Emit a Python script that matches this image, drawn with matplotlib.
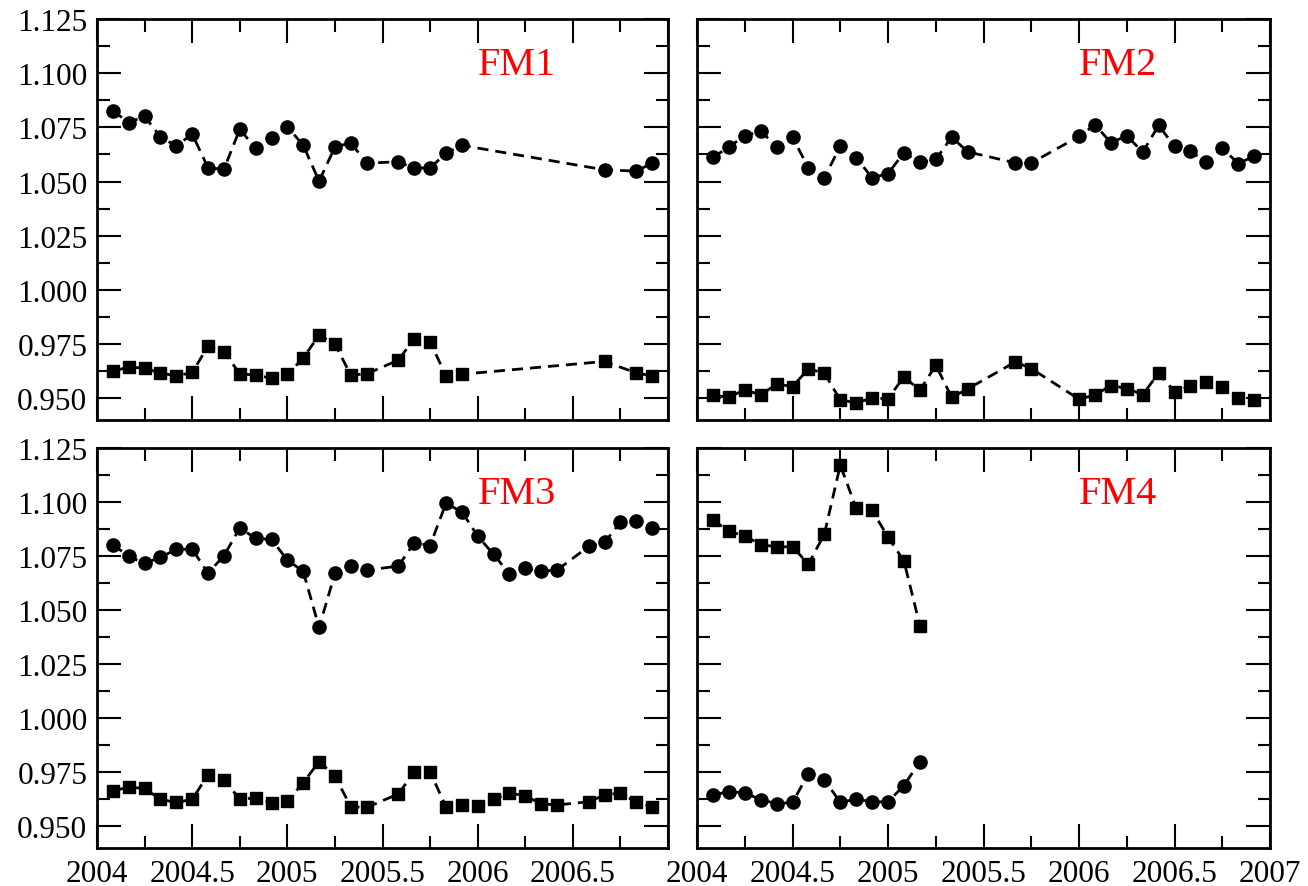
import matplotlib
matplotlib.use("Agg")
import matplotlib.pyplot as plt
import numpy as np
from matplotlib.ticker import MultipleLocator, FixedLocator, FixedFormatter

plt.rcParams['font.family'] = ['Liberation Serif', 'DejaVu Serif']

# month index counted from Jan 2004 (x = 2004 + month/12)
fm1_months = [1, 2, 3, 4, 5, 6, 7, 8, 9, 10, 11, 12, 13, 14, 15, 16, 17,
              19, 20, 21, 22, 23, 32, 34, 35]
fm1_circ = [1.0826, 1.0772, 1.0801, 1.0705, 1.0664, 1.0719, 1.0563, 1.0557,
            1.0741, 1.0653, 1.0702, 1.0753, 1.0667, 1.0502, 1.0659, 1.0679,
            1.0585, 1.0591, 1.0562, 1.0563, 1.0630, 1.0667, 1.0554, 1.0548,
            1.0585]
fm1_sq = [0.9625, 0.9644, 0.9639, 0.9617, 0.9603, 0.9619, 0.9741, 0.9715,
          0.9613, 0.9607, 0.9593, 0.9611, 0.9685, 0.9792, 0.9750, 0.9607,
          0.9613, 0.9676, 0.9775, 0.9761, 0.9603, 0.9611, 0.9670, 0.9617,
          0.9603]

fm2_months = [1, 2, 3, 4, 5, 6, 7, 8, 9, 10, 11, 12, 13, 14, 15, 16, 17,
              20, 21, 24, 25, 26, 27, 28, 29, 30, 31, 32, 33, 34, 35]
fm2_circ = [1.0611, 1.0660, 1.0710, 1.0733, 1.0660, 1.0704, 1.0563, 1.0517,
            1.0664, 1.0610, 1.0517, 1.0537, 1.0633, 1.0588, 1.0602, 1.0705,
            1.0637, 1.0586, 1.0586, 1.0708, 1.0762, 1.0679, 1.0711, 1.0636,
            1.0759, 1.0662, 1.0640, 1.0588, 1.0654, 1.0583, 1.0617]
fm2_sq = [0.9515, 0.9504, 0.9540, 0.9515, 0.9566, 0.9554, 0.9636, 0.9616,
          0.9492, 0.9480, 0.9500, 0.9499, 0.9599, 0.9537, 0.9653, 0.9504,
          0.9543, 0.9668, 0.9637, 0.9496, 0.9515, 0.9559, 0.9545, 0.9517,
          0.9616, 0.9530, 0.9556, 0.9574, 0.9553, 0.9502, 0.9492]

fm3_months = [1, 2, 3, 4, 5, 6, 7, 8, 9, 10, 11, 12, 13, 14, 15, 16, 17,
              19, 20, 21, 22, 23, 24, 25, 26, 27, 28, 29, 31, 32, 33, 34, 35]
fm3_circ = [1.0803, 1.0749, 1.0716, 1.0745, 1.0781, 1.0782, 1.0671, 1.0752,
            1.0880, 1.0832, 1.0827, 1.0732, 1.0679, 1.0420, 1.0670, 1.0705,
            1.0685, 1.0704, 1.0812, 1.0799, 1.0994, 1.0955, 1.0843, 1.0758,
            1.0668, 1.0693, 1.0681, 1.0685, 1.0795, 1.0813, 1.0907, 1.0911,
            1.0881]
fm3_sq = [0.9665, 0.9681, 0.9676, 0.9625, 0.9611, 0.9625, 0.9739, 0.9713,
          0.9627, 0.9631, 0.9610, 0.9617, 0.9702, 0.9800, 0.9732, 0.9591,
          0.9588, 0.9650, 0.9752, 0.9752, 0.9591, 0.9597, 0.9594, 0.9625,
          0.9655, 0.9641, 0.9605, 0.9599, 0.9614, 0.9645, 0.9655, 0.9611,
          0.9591]

fm4_months = [1, 2, 3, 4, 5, 6, 7, 8, 9, 10, 11, 12, 13, 14]
fm4_circ = [0.9645, 0.9661, 0.9655, 0.9624, 0.9605, 0.9611, 0.9744, 0.9716,
            0.9611, 0.9627, 0.9613, 0.9614, 0.9689, 0.9800]
fm4_sq = [1.0918, 1.0864, 1.0844, 1.0803, 1.0793, 1.0793, 1.0713, 1.0852,
          1.1171, 1.0971, 1.0961, 1.0838, 1.0727, 1.0429]

panels = ['FM1', 'FM2', 'FM3', 'FM4']
months = [fm1_months, fm2_months, fm3_months, fm4_months]
circles = [fm1_circ, fm2_circ, fm3_circ, fm4_circ]
squares = [fm1_sq, fm2_sq, fm3_sq, fm4_sq]

xticks = [2004, 2004.5, 2005, 2005.5, 2006, 2006.5, 2007]
xlabels = ['2004', '2004.5', '2005', '2005.5', '2006', '2006.5', '2007']
yticks = [0.950, 0.975, 1.000, 1.025, 1.050, 1.075, 1.100, 1.125]

fig = plt.figure(figsize=(13.08, 8.87), dpi=100)

# left, bottom, width, height
boxes = [(0.0742, 0.5254, 0.4365, 0.4521),
         (0.5329, 0.5254, 0.4381, 0.4521),
         (0.0742, 0.0428, 0.4365, 0.4510),
         (0.5329, 0.0428, 0.4381, 0.4510)]

for i in range(4):
    ax = fig.add_axes(boxes[i])
    x = 2004 + np.array(months[i]) / 12.0

    ax.plot(x, circles[i], color='black', lw=2, ls=(0, (4, 2.5)),
            marker='o', ms=9.5, mfc='black', mec='black')
    ax.plot(x, squares[i], color='black', lw=2, ls=(0, (4, 2.5)),
            marker='s', ms=8.5, mfc='black', mec='black')

    ax.set_xlim(2004, 2007)
    ax.set_ylim(0.94, 1.125)

    ax.xaxis.set_major_locator(FixedLocator(xticks))
    ax.xaxis.set_minor_locator(MultipleLocator(0.25))
    ax.yaxis.set_major_locator(FixedLocator(yticks))
    ax.yaxis.set_minor_locator(MultipleLocator(0.0125))

    ax.tick_params(which='both', direction='in', top=True, right=True,
                   width=1.5, labelsize=22.5)
    ax.tick_params(which='major', length=17)
    ax.tick_params(which='minor', length=9)
    ax.tick_params(axis='x', pad=8)
    ax.tick_params(axis='y', pad=7)

    for s in ax.spines.values():
        s.set_linewidth(2)

    if i < 2:
        ax.set_xticklabels([])
    elif i == 2:
        ax.xaxis.set_major_formatter(FixedFormatter(xlabels[:-1] + ['']))
    else:
        ax.xaxis.set_major_formatter(FixedFormatter(xlabels))

    if i % 2 == 1:
        ax.set_yticklabels([])
    else:
        ax.set_yticklabels(['%.3f' % v for v in yticks])

    ax.text(0.667, 0.862, panels[i], transform=ax.transAxes, color='red',
            fontsize=29, ha='left', va='baseline')

fig.savefig('out.png', dpi=100)
